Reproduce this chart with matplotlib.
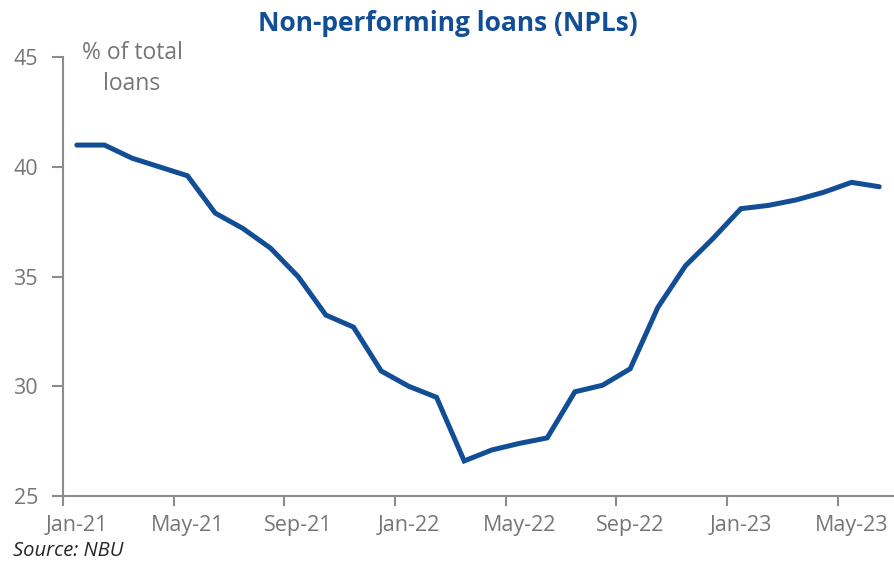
import matplotlib
matplotlib.use("Agg")
import matplotlib.pyplot as plt
import numpy as np

months = ["Jan-21", "Feb-21", "Mar-21", "Apr-21", "May-21", "Jun-21", "Jul-21", "Aug-21",
          "Sep-21", "Oct-21", "Nov-21", "Dec-21", "Jan-22", "Feb-22", "Mar-22", "Apr-22",
          "May-22", "Jun-22", "Jul-22", "Aug-22", "Sep-22", "Oct-22", "Nov-22", "Dec-22",
          "Jan-23", "Feb-23", "Mar-23", "Apr-23", "May-23", "Jun-23"]
npl_share = [41.0, 41.0, 40.4, 40.0, 39.6, 37.9, 37.2, 36.3, 35.0, 33.25, 32.7, 30.7,
             30.0, 29.5, 26.6, 27.1, 27.4, 27.65, 29.75, 30.05, 30.8, 33.6, 35.5, 36.75,
             38.1, 38.25, 38.5, 38.85, 39.3, 39.1]
y_ticks = [25, 30, 35, 40, 45]

line_color = "#114E96"
axis_color = "#8C8C8C"
text_color = "#767676"

plt.rcParams["font.family"] = ["Open Sans", "DejaVu Sans"]

fig = plt.figure(figsize=(8.95, 5.62), dpi=100)
ax = fig.add_axes([0.0704, 0.1174, 0.9274, 0.7806])

x = np.arange(len(months))
ax.plot(x, npl_share, color=line_color, lw=3.6, solid_joinstyle="miter", solid_capstyle="round")

ax.set_xlim(-0.5, len(months) - 0.5)
ax.set_ylim(25, 45)

# labels every four months, tick marks on category boundaries
label_idx = list(range(0, len(months), 4))
ax.set_xticks(label_idx)
ax.set_xticklabels([months[i] for i in label_idx])
ax.set_xticks([i - 0.5 for i in label_idx], minor=True)
ax.tick_params(axis="x", which="major", length=0, pad=14, labelsize=15.5, labelcolor=text_color)
ax.tick_params(axis="x", which="minor", length=7, width=1.5, color=axis_color)

ax.set_yticks(y_ticks)
ax.tick_params(axis="y", length=8, width=1.5, color=axis_color, pad=10, labelsize=15.5,
               labelcolor=text_color)

for side in ("top", "right"):
    ax.spines[side].set_visible(False)
for side in ("left", "bottom"):
    ax.spines[side].set_color(axis_color)
    ax.spines[side].set_linewidth(1.5)

fig.text(0.5, 0.958, "Non-performing loans (NPLs)", ha="center", va="center",
         fontsize=19, fontweight="bold", color=line_color)
fig.text(0.1475, 0.878, "% of total\nloans", ha="center", va="center", fontsize=16.5,
         color=text_color, linespacing=1.4)
fig.text(0.015, 0.002, "Source: NBU", ha="left", va="bottom", fontsize=14.5,
         style="italic", color="#262626")

fig.savefig("out.png", dpi=100)
